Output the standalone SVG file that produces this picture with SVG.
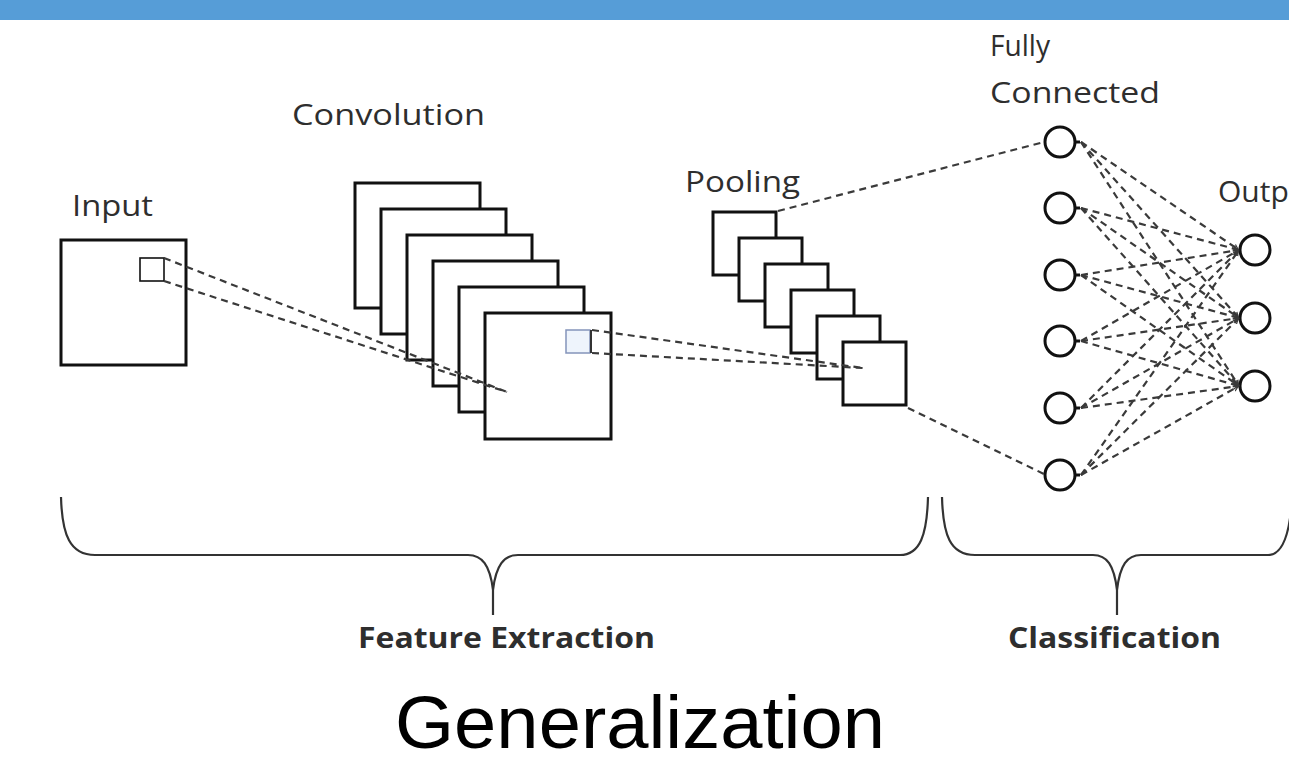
<svg xmlns="http://www.w3.org/2000/svg" width="1289" height="764" viewBox="0 0 1289 764">
  <style>
    .lbl { font-family: "Open Sans", "Liberation Sans", sans-serif; font-size: 30px; fill: #2e2e2e; }
    .grp { font-family: "Open Sans", "Liberation Sans", sans-serif; font-size: 28px; font-weight: 700; fill: #2e2e2e; }
    .title { font-family: "Liberation Sans", Arial, sans-serif; font-size: 75px; fill: #000; }
    .map { fill: #fff; stroke: #111; stroke-width: 3; }
    .neuron { fill: #fff; stroke: #111; stroke-width: 3; }
    .dash { fill: none; stroke: #3a3a3a; stroke-width: 2.2; stroke-dasharray: 7 5; }
    .brace { fill: none; stroke: #333; stroke-width: 2.2; }
  </style>
  <defs>
    <marker id="tip" markerWidth="7" markerHeight="7" refX="6" refY="3.5" orient="auto" markerUnits="userSpaceOnUse">
      <path d="M0,1 L5,3.5 L0,6" fill="none" stroke="#3a3a3a" stroke-width="1.2"/>
    </marker>
  </defs>

  <rect width="1289" height="764" fill="#fff"/>
  <!-- header band -->
  <rect x="0" y="0" width="1289" height="20" fill="#569dd7"/>

  <!-- input image -->
  <g id="input">
    <text class="lbl" x="72" y="216" textLength="81" lengthAdjust="spacingAndGlyphs">Input</text>
    <rect class="map" x="61" y="240" width="125" height="125"/>
    <rect x="140" y="258" width="24" height="23" fill="#fff" stroke="#111" stroke-width="1.6"/>
  </g>

  <!-- convolution feature maps -->
  <g id="convolution">
    <text class="lbl" x="292" y="125" textLength="193" lengthAdjust="spacingAndGlyphs">Convolution</text>
    <rect class="map" x="355" y="183" width="125" height="125"/>
    <rect class="map" x="381" y="209" width="125" height="125"/>
    <rect class="map" x="407" y="235" width="125" height="125"/>
    <rect class="map" x="433" y="261" width="125" height="125"/>
    <rect class="map" x="459" y="287" width="125" height="125"/>
    <rect class="map" x="485" y="313" width="126" height="126"/>
    <rect x="566" y="330" width="24" height="23" fill="#eef4fc" stroke="#8494ba" stroke-width="1.5"/>
    <line x1="591" y1="330" x2="591" y2="353" stroke="#333" stroke-width="2"/>
  </g>

  <!-- pooling maps -->
  <g id="pooling">
    <text class="lbl" x="685" y="192" textLength="115" lengthAdjust="spacingAndGlyphs">Pooling</text>
    <rect class="map" x="713" y="212" width="63" height="63"/>
    <rect class="map" x="739" y="238" width="63" height="63"/>
    <rect class="map" x="765" y="264" width="63" height="63"/>
    <rect class="map" x="791" y="290" width="63" height="63"/>
    <rect class="map" x="817" y="316" width="63" height="63"/>
    <rect class="map" x="843" y="342" width="63" height="63"/>
  </g>

  <!-- fully connected layer -->
  <g id="fully-connected">
    <text class="lbl" x="990" y="56" textLength="60" lengthAdjust="spacingAndGlyphs">Fully</text>
    <text class="lbl" x="990" y="103" textLength="170" lengthAdjust="spacingAndGlyphs">Connected</text>
    <g id="fc1"><circle class="neuron" cx="1060" cy="142" r="15"/><line x1="1074" y1="142" x2="1080" y2="142" stroke="#111" stroke-width="3"/></g>
    <g id="fc2"><circle class="neuron" cx="1060" cy="208" r="15"/><line x1="1074" y1="208" x2="1080" y2="208" stroke="#111" stroke-width="3"/></g>
    <g id="fc3"><circle class="neuron" cx="1060" cy="275" r="15"/><line x1="1074" y1="275" x2="1080" y2="275" stroke="#111" stroke-width="3"/></g>
    <g id="fc4"><circle class="neuron" cx="1060" cy="341" r="15"/><line x1="1074" y1="341" x2="1080" y2="341" stroke="#111" stroke-width="3"/></g>
    <g id="fc5"><circle class="neuron" cx="1060" cy="408" r="15"/><line x1="1074" y1="408" x2="1080" y2="408" stroke="#111" stroke-width="3"/></g>
    <g id="fc6"><circle class="neuron" cx="1060" cy="475" r="15"/><line x1="1074" y1="475" x2="1080" y2="475" stroke="#111" stroke-width="3"/></g>
  </g>

  <!-- output layer -->
  <g id="output">
    <text class="lbl" x="1218" y="202">Outp</text>
    <circle id="out1" class="neuron" cx="1255" cy="250" r="15"/>
    <circle id="out2" class="neuron" cx="1255" cy="318" r="15"/>
    <circle id="out3" class="neuron" cx="1255" cy="386" r="15"/>
  </g>

  <!-- connectors -->
  <g id="connectors">
    <path class="dash" d="M164,258 L507,392 M164,281 L507,392"/>
    <path class="dash" d="M592,330 L863,368 M592,353 L863,368"/>
    <path class="dash" d="M778,211 L1044,142 M908,408 L1044,474"/>
    <g marker-end="url(#tip)">
      <path class="dash" d="M1081,142 L1239,250"/>
      <path class="dash" d="M1081,142 L1239,318"/>
      <path class="dash" d="M1081,142 L1239,386"/>
      <path class="dash" d="M1081,208 L1239,250"/>
      <path class="dash" d="M1081,208 L1239,318"/>
      <path class="dash" d="M1081,208 L1239,386"/>
      <path class="dash" d="M1081,275 L1239,250"/>
      <path class="dash" d="M1081,275 L1239,318"/>
      <path class="dash" d="M1081,275 L1239,386"/>
      <path class="dash" d="M1081,341 L1239,250"/>
      <path class="dash" d="M1081,341 L1239,318"/>
      <path class="dash" d="M1081,341 L1239,386"/>
      <path class="dash" d="M1081,408 L1239,250"/>
      <path class="dash" d="M1081,408 L1239,318"/>
      <path class="dash" d="M1081,408 L1239,386"/>
      <path class="dash" d="M1081,475 L1239,250"/>
      <path class="dash" d="M1081,475 L1239,318"/>
      <path class="dash" d="M1081,475 L1239,386"/>
    </g>
  </g>

  <!-- stage braces -->
  <g id="feature-extraction">
    <path class="brace" d="M61,497 C62,535 70,555 95,555 L468,555 C482,555 490,565 493,590 L493,615 M493,590 C496,565 504,555 518,555 L900,555 C920,555 927,535 928,497"/>
    <text class="grp" x="358" y="648" textLength="297" lengthAdjust="spacingAndGlyphs">Feature Extraction</text>
  </g>
  <g id="classification">
    <path class="brace" d="M942,497 C943,535 950,555 975,555 L1093,555 C1107,555 1114,565 1117,590 L1117,615 M1117,590 C1120,565 1127,555 1141,555 L1268,555 C1282,555 1290,535 1292,497"/>
    <text class="grp" x="1008" y="648" textLength="213" lengthAdjust="spacingAndGlyphs">Classification</text>
  </g>

  <text class="title" x="395" y="748" textLength="490" lengthAdjust="spacingAndGlyphs">Generalization</text>
</svg>
